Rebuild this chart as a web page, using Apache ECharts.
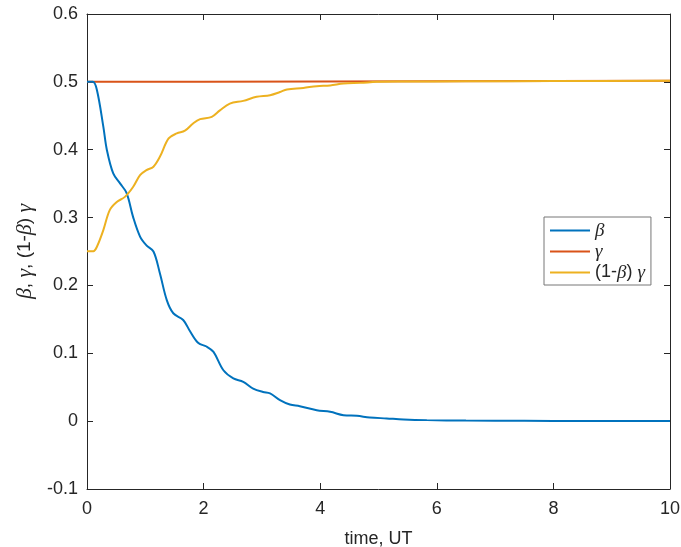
<!DOCTYPE html>
<html>
<head>
<meta charset="utf-8">
<script src="https://cdn.jsdelivr.net/npm/echarts@6/dist/echarts.min.js"></script>
<style>
  html, body { margin: 0; padding: 0; background: #fff; }
  #chart { width: 681px; height: 547px; }
</style>
</head>
<body>
<div id="chart"></div>
<script>
// Time samples and values for beta
const betaTime = [0, 0.1, 0.17, 0.28, 0.34, 0.45, 0.57, 0.68, 0.79, 0.91, 1.02, 1.14, 1.25, 1.37, 1.48, 1.65, 1.77, 1.91, 2.05, 2.17, 2.34, 2.51, 2.68, 2.85, 3.02, 3.14, 3.31, 3.48, 3.65, 3.94, 4.17, 4.40, 4.63, 4.85, 5.14, 5.43, 5.83, 6.5, 7.5, 8.5, 10];
const betaVals = [0.5, 0.5, 0.488, 0.434, 0.40, 0.365, 0.350, 0.336, 0.301, 0.272, 0.259, 0.250, 0.218, 0.178, 0.159, 0.149, 0.132, 0.115, 0.110, 0.102, 0.075, 0.063, 0.058, 0.048, 0.043, 0.041, 0.031, 0.0245, 0.022, 0.016, 0.0137, 0.0088, 0.0078, 0.0054, 0.004, 0.0025, 0.0015, 0.0009, 0.0005, 0.0003, 0.0001];

// Time samples and values for gamma
const gammaTime = [0, 2, 4, 6, 8, 10];
const gammaVals = [0.5, 0.5003, 0.5006, 0.5009, 0.5012, 0.5016];

// Time samples and values for (1-beta) gamma
const mixTime = [0, 0.11, 0.17, 0.28, 0.39, 0.51, 0.65, 0.79, 0.91, 1.02, 1.14, 1.25, 1.40, 1.54, 1.68, 1.82, 1.94, 2.14, 2.28, 2.45, 2.68, 2.91, 3.14, 3.31, 3.43, 3.71, 3.94, 4.17, 4.40, 4.69, 4.97, 5.37, 6.5, 8, 10];
const mixVals = [0.2505, 0.2505, 0.257, 0.2815, 0.311, 0.323, 0.3305, 0.345, 0.3625, 0.37, 0.375, 0.3895, 0.4166, 0.424, 0.428, 0.4387, 0.445, 0.4485, 0.458, 0.468, 0.472, 0.478, 0.4804, 0.485, 0.4888, 0.491, 0.4937, 0.4947, 0.4976, 0.4985, 0.500, 0.5005, 0.5008, 0.5012, 0.5016];

// Axis tick positions
const xTicks = [0, 2, 4, 6, 8, 10];
const yTicks = [-0.1, 0, 0.1, 0.2, 0.3, 0.4, 0.5, 0.6];

const seriesNames = ['β', 'γ', '(1-β) γ'];
const legendRich = {
  'β': '{i|β}',
  'γ': '{i|γ}',
  '(1-β) γ': '(1-{i|β}) {i|γ}'
};

const zip = (xs, ys) => xs.map((x, k) => [x, ys[k]]);

const FONT = 'Liberation Sans';
const FS = 18;
const AXIS_COLOR = '#262626';
const greek = { fontStyle: 'italic', fontFamily: 'Liberation Serif', fontSize: 19, color: AXIS_COLOR };
const greekBig = Object.assign({}, greek, { fontSize: 22 });

const xStep = xTicks[1] - xTicks[0];
const yStep = +(yTicks[1] - yTicks[0]).toFixed(10);

function axisBase(extra) {
  return Object.assign({
    type: 'value',
    axisLine: { show: true, onZero: false, lineStyle: { color: AXIS_COLOR, width: 1 } },
    axisTick: { show: true, inside: true, length: 6, lineStyle: { color: AXIS_COLOR } },
    splitLine: { show: false }
  }, extra);
}

const chart = echarts.init(document.getElementById('chart'), null, { renderer: 'canvas' });

chart.setOption({
  animation: false,
  backgroundColor: '#fff',
  grid: { left: 87, right: 11, top: 14, bottom: 58, containLabel: false, outerBoundsMode: 'none' },
  legend: {
    orient: 'vertical',
    left: 544,
    top: 217,
    data: seriesNames,
    icon: 'rect',
    padding: [3, 6, 2, 6],
    itemGap: 0,
    itemWidth: 40,
    itemHeight: 2,
    backgroundColor: '#fff',
    borderColor: '#777',
    borderWidth: 1,
    borderRadius: 0,
    formatter: name => legendRich[name],
    textStyle: {
      fontFamily: FONT, fontSize: FS, color: AXIS_COLOR, lineHeight: 21,
      rich: { i: Object.assign({ lineHeight: 21 }, greek) }
    }
  },
  xAxis: [
    axisBase({
      min: xTicks[0], max: xTicks[xTicks.length - 1], interval: xStep,
      position: 'bottom',
      name: 'time, UT',
      nameLocation: 'middle',
      nameGap: 41,
      nameTextStyle: { fontFamily: FONT, fontSize: FS, color: AXIS_COLOR },
      axisLabel: { fontFamily: FONT, fontSize: FS, color: AXIS_COLOR, margin: 11 }
    }),
    axisBase({
      min: xTicks[0], max: xTicks[xTicks.length - 1], interval: xStep,
      position: 'top',
      axisLabel: { show: false }
    })
  ],
  yAxis: [
    axisBase({
      min: yTicks[0], max: yTicks[yTicks.length - 1], interval: yStep,
      position: 'left',
      name: '{i|β}, {i|γ}, (1-{i|β}) {i|γ}',
      nameLocation: 'middle',
      nameGap: 47,
      nameRotate: 90,
      nameTextStyle: {
        fontFamily: FONT, fontSize: 19, color: AXIS_COLOR,
        rich: { i: greekBig }
      },
      axisLabel: {
        fontFamily: FONT, fontSize: FS, color: AXIS_COLOR, margin: 9,
        formatter: v => String(+v.toFixed(1))
      }
    }),
    axisBase({
      min: yTicks[0], max: yTicks[yTicks.length - 1], interval: yStep,
      position: 'right',
      axisLabel: { show: false }
    })
  ],
  series: [
    {
      name: seriesNames[0], type: 'line', data: zip(betaTime, betaVals),
      smooth: 0.35, symbol: 'none', z: 3,
      lineStyle: { color: '#0072BD', width: 2 }, itemStyle: { color: '#0072BD' }
    },
    {
      name: seriesNames[1], type: 'line', data: zip(gammaTime, gammaVals),
      smooth: false, symbol: 'none', z: 2,
      lineStyle: { color: '#D95319', width: 2 }, itemStyle: { color: '#D95319' }
    },
    {
      name: seriesNames[2], type: 'line', data: zip(mixTime, mixVals),
      smooth: 0.35, symbol: 'none', z: 4,
      lineStyle: { color: '#EDB120', width: 2 }, itemStyle: { color: '#EDB120' }
    }
  ]
});
</script>
</body>
</html>
